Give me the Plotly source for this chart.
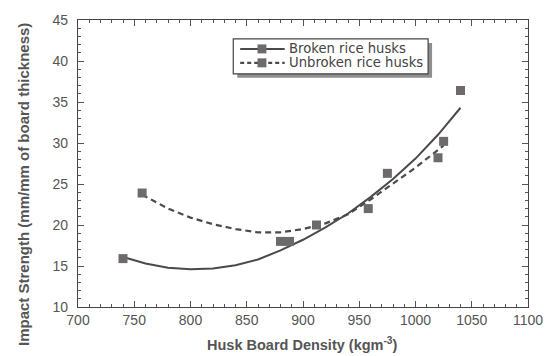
import plotly.graph_objects as go

# Measured points
broken_x = [740, 880, 975, 1040]
broken_y = [15.9, 18.0, 26.3, 36.4]
unbroken_x = [757, 888, 912, 958, 1020, 1025]
unbroken_y = [23.9, 18.0, 20.0, 22.0, 28.2, 30.2]

# Trend curves
broken_fit_x = [740, 760, 780, 800, 820, 840, 860, 880, 900, 920, 940, 960, 980, 1000, 1020, 1040]
broken_fit_y = [16.1, 15.3, 14.8, 14.6, 14.7, 15.1, 15.8, 16.9, 18.2, 19.7, 21.4, 23.4, 25.6, 28.1, 31.0, 34.3]
unbroken_fit_x = [757, 780, 800, 820, 840, 860, 880, 900, 920, 940, 960, 980, 1000, 1025]
unbroken_fit_y = [23.7, 22.0, 20.9, 20.1, 19.5, 19.1, 19.1, 19.5, 20.2, 21.3, 23.1, 25.0, 27.0, 29.7]

x_ticks = [700, 750, 800, 850, 900, 950, 1000, 1050, 1100]
y_ticks = [10, 15, 20, 25, 30, 35, 40, 45]

series_names = ["Broken rice husks", "Unbroken rice husks"]
x_title = "<b>Husk Board Density (kgm<sup>-3</sup>)</b>"
y_title = "<b>Impact Strength (mm/mm of board thickness)</b>"

LINE = "#4a4a4a"
MARK = "#6e6a6a"
FONT = "Liberation Sans, Arial, sans-serif"

# plot area in pixels (for layout helpers)
L, R, T, B = 78, 533, 19, 307
def px(x):
    return (x - L) / (R - L)
def py(y):
    return (B - y) / (B - T)

fig = go.Figure()
fig.add_trace(go.Scatter(x=broken_fit_x, y=broken_fit_y, mode="lines", name=series_names[0],
                         line=dict(color=LINE, width=2), showlegend=False, hoverinfo="skip"))
fig.add_trace(go.Scatter(x=unbroken_fit_x, y=unbroken_fit_y, mode="lines", name=series_names[1],
                         line=dict(color=LINE, width=2.2, dash="6px,4px"), showlegend=False, hoverinfo="skip"))
fig.add_trace(go.Scatter(x=broken_x, y=broken_y, mode="markers", name=series_names[0],
                         marker=dict(symbol="square", size=9, color=MARK), showlegend=False))
fig.add_trace(go.Scatter(x=unbroken_x, y=unbroken_y, mode="markers", name=series_names[1],
                         marker=dict(symbol="square", size=9, color=MARK), showlegend=False))

axis_common = dict(showgrid=False, zeroline=False, showline=True, linecolor="#444", linewidth=1.2,
                   ticks="inside", ticklen=6, tickcolor="#555", mirror="ticks",
                   tickfont=dict(family=FONT, size=14, color="#555"))

fig.update_xaxes(range=[700, 1100], tickvals=x_ticks, ticktext=[str(v) for v in x_ticks],
                 minor=dict(dtick=10, ticks="inside", ticklen=3, tickcolor="#555"),
                 **axis_common)
fig.update_yaxes(range=[10, 45], tickvals=y_ticks, ticktext=[str(v) for v in y_ticks],
                 minor=dict(dtick=1, ticks="inside", ticklen=3, tickcolor="#555"),
                 ticklabelstandoff=6,
                 **axis_common)

LEG_Y = (48, 62)
shapes = []
# legend shadow + box
shapes.append(dict(type="rect", xref="paper", yref="paper",
                   x0=px(239), x1=px(436), y0=py(77), y1=py(42),
                   fillcolor="#8f8f8f", line=dict(width=0)))
shapes.append(dict(type="rect", xref="paper", yref="paper",
                   x0=px(235), x1=px(432), y0=py(73), y1=py(38),
                   fillcolor="white", line=dict(color="#444", width=1.2)))
# legend samples
shapes.append(dict(type="line", xref="paper", yref="paper",
                   x0=px(242), x1=px(287), y0=py(LEG_Y[0]), y1=py(LEG_Y[0]),
                   line=dict(color=LINE, width=2)))
shapes.append(dict(type="line", xref="paper", yref="paper",
                   x0=px(242), x1=px(287), y0=py(LEG_Y[1]), y1=py(LEG_Y[1]),
                   line=dict(color=LINE, width=2.2, dash="4px,3px")))
for yy in LEG_Y:
    shapes.append(dict(type="rect", xref="paper", yref="paper",
                       x0=px(259.5), x1=px(268.5), y0=py(yy + 4.5), y1=py(yy - 4.5),
                       fillcolor=MARK, line=dict(width=0)))

LEG_FONT = dict(family="DejaVu Sans, sans-serif", size=13.2, color="#444")
annotations = [
    dict(text=series_names[0], xref="paper", yref="paper", x=px(289), y=py(LEG_Y[0]),
         xanchor="left", yanchor="middle", showarrow=False, font=LEG_FONT),
    dict(text=series_names[1], xref="paper", yref="paper", x=px(289), y=py(LEG_Y[1]),
         xanchor="left", yanchor="middle", showarrow=False, font=LEG_FONT),
    dict(text=x_title, xref="paper", yref="paper", x=px(304), y=py(344),
         xanchor="center", yanchor="middle", showarrow=False,
         font=dict(family=FONT, size=14.5, color="#555")),
    dict(text=y_title, xref="paper", yref="paper", x=px(23), y=py(184),
         xanchor="center", yanchor="middle", showarrow=False, textangle=-90,
         font=dict(family=FONT, size=15, color="#555")),
]

fig.update_layout(
    width=555, height=356,
    margin=dict(l=L, r=555 - R, t=T, b=356 - B),
    paper_bgcolor="white", plot_bgcolor="white",
    showlegend=False,
    shapes=shapes,
    annotations=annotations,
)

fig.write_html("out.html")
